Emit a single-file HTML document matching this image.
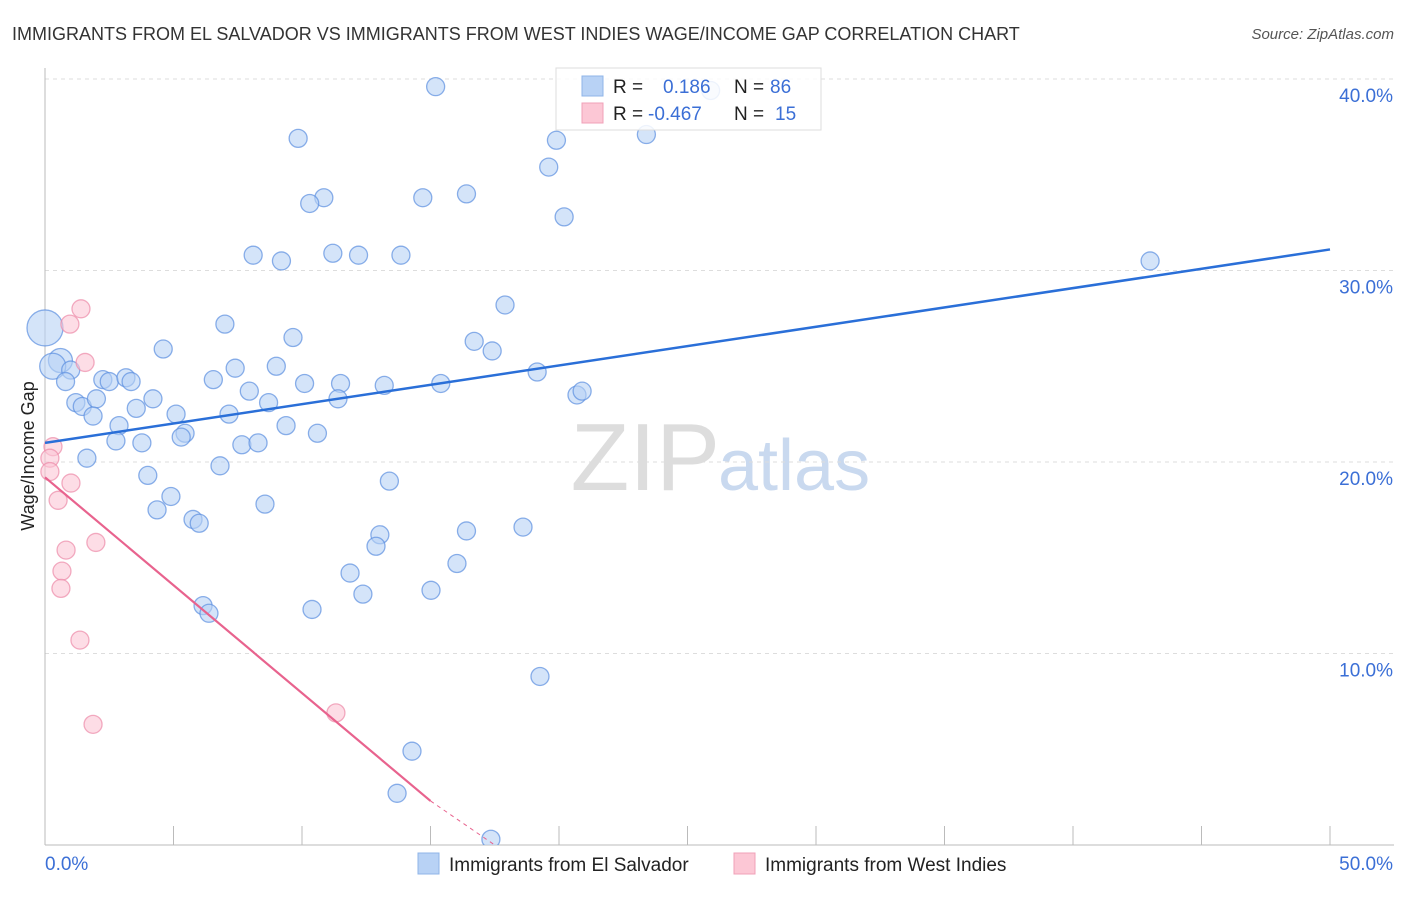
<!DOCTYPE html>
<html><head><meta charset="utf-8"><style>
body{margin:0;background:#fff;font-family:"Liberation Sans",sans-serif;}
svg text{font-family:"Liberation Sans",sans-serif;}
</style></head><body>
<svg width="1406" height="892" viewBox="0 0 1406 892">
<text x="12" y="40" font-size="18" fill="#333">IMMIGRANTS FROM EL SALVADOR VS IMMIGRANTS FROM WEST INDIES WAGE/INCOME GAP CORRELATION CHART</text>
<text x="1394" y="39" font-size="15" fill="#555" font-style="italic" text-anchor="end">Source: ZipAtlas.com</text>
<text x="720" y="490" font-size="96" fill="#ddd" font-family="Liberation Serif" text-anchor="end">ZIP</text>
<text x="718" y="490" font-size="72" fill="#c9d9ef">atlas</text>
<text transform="translate(34,456) rotate(-90)" font-size="18" fill="#222" text-anchor="middle">Wage/Income Gap</text>
<defs><clipPath id="pc"><rect x="0" y="60" width="1406" height="785"/></clipPath></defs>
<g id="grid"></g>
<g id="axes"></g>
<g id="pts" clip-path="url(#pc)"></g>
<g id="trend"></g>
<g>
<rect x="556" y="68" width="265" height="62" fill="#fff" fill-opacity="0.85" stroke="#ddd"/>
<rect x="582" y="76" width="21" height="20" fill="#b8d2f5" stroke="#8fb4e8"/>
<rect x="582" y="103" width="21" height="20" fill="#fcc7d5" stroke="#f0a0b8"/>
<text x="613" y="93" font-size="19" fill="#222">R = </text><text x="663" y="93" font-size="19" fill="#3b6fd6">0.186</text>
<text x="734" y="93" font-size="19" fill="#222">N = </text><text x="770" y="93" font-size="19" fill="#3b6fd6">86</text>
<text x="613" y="120" font-size="19" fill="#222">R = </text><text x="648" y="120" font-size="19" fill="#3b6fd6">-0.467</text>
<text x="734" y="120" font-size="19" fill="#222">N = </text><text x="775" y="120" font-size="19" fill="#3b6fd6">15</text>
</g>
<g>
<rect x="418" y="853" width="21" height="21" fill="#b8d2f5" stroke="#8fb4e8"/>
<text x="449" y="871" font-size="19" fill="#222">Immigrants from El Salvador</text>
<rect x="734" y="853" width="21" height="21" fill="#fcc7d5" stroke="#f0a0b8"/>
<text x="765" y="871" font-size="19" fill="#222">Immigrants from West Indies</text>
</g>
</svg>
<script>
const blueX=[15.2,9.85,25.9,23.4,19.9,19.6,16.4,14.7,10.85,10.3,20.2,8.1,9.2,11.2,12.2,13.85,43.0,17.9,7.0,9.65,16.7,17.4,4.6,0.0,0.6,0.3,1.0,0.8,2.25,2.5,3.15,3.35,7.4,9.0,19.15,6.55,10.1,11.5,13.2,15.4,7.95,20.7,20.9,1.2,1.45,2.0,4.2,3.55,8.7,11.4,1.87,5.1,7.16,2.88,9.38,5.45,5.3,10.6,2.76,3.77,7.66,8.29,1.63,6.81,4.0,13.4,4.9,8.56,4.36,5.76,6.0,13.03,18.6,16.4,12.88,16.03,11.87,12.37,15.02,6.15,6.38,10.39,19.26,14.28,13.7,17.35];
const blueY=[39.6,36.9,39.4,37.1,36.8,35.4,34.0,33.8,33.8,33.5,32.8,30.8,30.5,30.9,30.8,30.8,30.5,28.2,27.2,26.5,26.3,25.8,25.9,27.0,25.3,25.0,24.8,24.2,24.3,24.2,24.4,24.2,24.9,25.0,24.7,24.3,24.1,24.1,24.0,24.1,23.7,23.5,23.7,23.1,22.9,23.3,23.3,22.8,23.1,23.3,22.4,22.5,22.5,21.9,21.9,21.5,21.3,21.5,21.1,21.0,20.9,21.0,20.2,19.8,19.3,19.0,18.2,17.8,17.5,17.0,16.8,16.2,16.6,16.4,15.6,14.7,14.2,13.1,13.3,12.5,12.1,12.3,8.8,4.9,2.7,0.3];
const blueR=[9,9,9,9,9,9,9,9,9,9,9,9,9,9,9,9,9,9,9,9,9,9,9,18,12,13,9,9,9,9,9,9,9,9,9,9,9,9,9,9,9,9,9,9,9,9,9,9,9,9,9,9,9,9,9,9,9,9,9,9,9,9,9,9,9,9,9,9,9,9,9,9,9,9,9,9,9,9,9,9,9,9,9,9,9,9];
const pinkX=[1.4,0.97,1.56,0.31,0.19,0.19,1.01,0.51,1.98,0.82,0.66,0.62,1.36,1.87,11.32];
const pinkY=[28.0,27.2,25.2,20.8,20.2,19.5,18.9,18.0,15.8,15.4,14.3,13.4,10.7,6.3,6.9];
const blueTrend=[0,21.0,50,31.1];
const pinkTrend=[0,19.2,15,2.3,17.5,0];
const yTicks=[10,20,30,40];
const X=v=>45+v*25.7, Y=v=>845-v*19.15;
const NS='http://www.w3.org/2000/svg';
function mk(t,a,p){const e=document.createElementNS(NS,t);for(const k in a)e.setAttribute(k,a[k]);p.appendChild(e);return e;}
const grid=document.getElementById('grid'),axes=document.getElementById('axes'),pts=document.getElementById('pts'),tr=document.getElementById('trend');
yTicks.forEach(t=>{
 const l=mk('line',{x1:45,x2:1394,y1:Y(t),y2:Y(t),stroke:'#ddd','stroke-dasharray':'4,4'},grid);
 
 
 const tx=mk('text',{x:1393,y:Y(t)+23,'font-size':19,fill:'#3b6fd6','text-anchor':'end'},axes);
 tx.textContent=t.toFixed(1)+'%';
 
 
});
mk('line',{x1:45,x2:45,y1:68,y2:845,stroke:'#bbb'},axes);
const xa=mk('line',{x1:45,x2:1394,y1:845,y2:845,stroke:'#bbb'},axes);


for(let i=1;i<=10;i++){mk('line',{x1:X(i*5),x2:X(i*5),y1:826,y2:845,stroke:'#bbb'},axes);}
const x0=mk('text',{x:45,y:870,'font-size':19,fill:'#3b6fd6'},axes);x0.textContent='0.0%';


const x1=mk('text',{x:1393,y:870,'font-size':19,fill:'#3b6fd6','text-anchor':'end'},axes);x1.textContent='50.0%';


blueX.forEach((v,i)=>{
 const c=mk('circle',{cx:X(v),cy:Y(blueY[i]),r:blueR[i],fill:'#b8d2f5','fill-opacity':0.6,stroke:'#5b8fdf','stroke-opacity':0.7,'stroke-width':1.3},pts);
 
 
});
pinkX.forEach((v,i)=>{
 const c=mk('circle',{cx:X(v),cy:Y(pinkY[i]),r:9,fill:'#fcc7d5','fill-opacity':0.6,stroke:'#ec8aa8','stroke-opacity':0.7,'stroke-width':1.3},pts);
 
 
});
const bl=mk('line',{x1:X(blueTrend[0]),y1:Y(blueTrend[1]),x2:X(blueTrend[2]),y2:Y(blueTrend[3]),stroke:'#2a6fd8','stroke-width':2.5},tr);


const pl=mk('line',{x1:X(pinkTrend[0]),y1:Y(pinkTrend[1]),x2:X(pinkTrend[2]),y2:Y(pinkTrend[3]),stroke:'#e8638e','stroke-width':2.2},tr);


const pd=mk('line',{x1:X(pinkTrend[2]),y1:Y(pinkTrend[3]),x2:X(pinkTrend[4]),y2:Y(pinkTrend[5]),stroke:'#e8638e','stroke-width':1,'stroke-dasharray':'4,4'},tr);


</script>
</body></html>
